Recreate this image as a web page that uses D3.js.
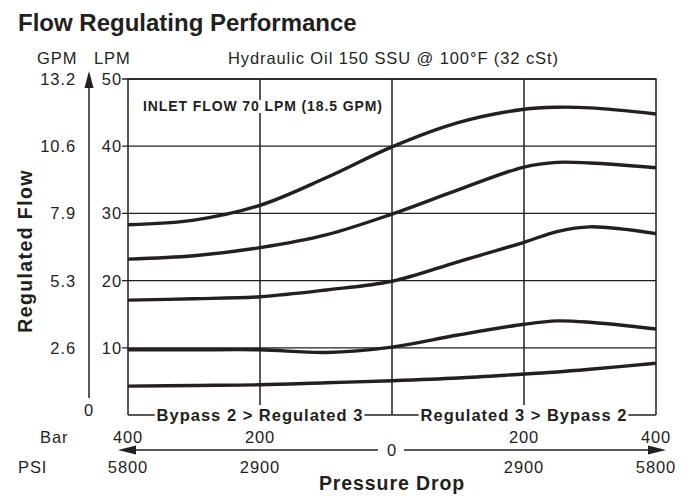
<!DOCTYPE html>
<html>
<head>
<meta charset="utf-8">
<script src="https://cdn.jsdelivr.net/npm/d3@7"></script>
<style>
  body { margin: 0; background: #fff; }
  text { font-family: "Liberation Sans", Arial, Helvetica, sans-serif; fill: #231f20; letter-spacing: 0.9px; }
</style>
</head>
<body>
<svg width="690" height="496"></svg>
<script>
// pressure drop in bar; negative = Bypass 2 > Regulated 3 side, positive = Regulated 3 > Bypass 2 side
var pressure = [-400, -300, -200, -100, 0, 100, 200, 250, 300, 400];
var flow1 = [28.3, 29.0, 31.2, 35.3, 39.9, 43.5, 45.5, 45.8, 45.7, 44.8];
var flow2 = [23.2, 23.7, 24.9, 26.8, 29.9, 33.5, 36.9, 37.6, 37.5, 36.8];
var flow3 = [17.1, 17.3, 17.6, 18.6, 19.9, 22.8, 25.7, 27.3, 28.0, 27.0];
var flow4 = [9.7, 9.7, 9.7, 9.3, 10.1, 11.9, 13.5, 14.0, 13.8, 12.8];
var flow5 = [4.3, 4.4, 4.5, 4.8, 5.1, 5.5, 6.1, 6.4, 6.8, 7.7];

var lpmTicks = [10, 20, 30, 40, 50];
var gpmLabels = ["2.6", "5.3", "7.9", "10.6", "13.2"];
var barTicks = [-400, -200, 200, 400];
var barLabels = ["400", "200", "200", "400"];
var psiLabels = ["5800", "2900", "2900", "5800"];
var gridX = [-200, 0, 200];

var svg = d3.select("svg");
var x = d3.scaleLinear().domain([-400, 400]).range([128, 656]);
var y = d3.scaleLinear().domain([0, 50]).range([415, 79]);
var ink = "#231f20";

// titles
svg.append("text").attr("x", 18).attr("y", 31)
    .style("font-size", "24px").style("font-weight", "bold").style("letter-spacing", "0px")
    .text("Flow Regulating Performance");
svg.append("text").attr("x", 228).attr("y", 64)
    .style("font-size", "16.5px").text("Hydraulic Oil 150 SSU @ 100\u00B0F (32 cSt)");
svg.append("text").attr("x", 37).attr("y", 64).style("font-size", "16.5px").text("GPM");
svg.append("text").attr("x", 94).attr("y", 64).style("font-size", "16.5px").text("LPM");

// horizontal gridlines with little ticks
svg.selectAll(".hgrid").data(lpmTicks).enter().append("line")
    .attr("x1", 122).attr("x2", 656)
    .attr("y1", function(d) { return y(d); }).attr("y2", function(d) { return y(d); })
    .style("stroke", ink).style("stroke-width", 1.3);

// vertical gridlines
svg.selectAll(".vgrid").data(gridX).enter().append("line")
    .attr("x1", function(d) { return x(d); }).attr("x2", function(d) { return x(d); })
    .attr("y1", y(50)).attr("y2", function(d) { return d === 0 ? 415 : 405; })
    .style("stroke", ink).style("stroke-width", 1.5);

// frame: left, top, right
svg.append("path")
    .attr("d", "M" + x(-400) + "," + y(0) + "V" + y(50) + "H" + x(400) + "V" + y(0))
    .style("fill", "none").style("stroke", ink).style("stroke-width", 1.5);

// LPM labels
svg.selectAll(".lpm").data(lpmTicks).enter().append("text")
    .attr("x", 122).attr("y", function(d) { return y(d) + 6; })
    .attr("text-anchor", "end").style("font-size", "16.5px").text(function(d) { return d; });
// GPM labels
svg.selectAll(".gpm").data(lpmTicks).enter().append("text")
    .attr("x", 76).attr("y", function(d) { return y(d) + 6; })
    .attr("text-anchor", "end").style("font-size", "16.5px").text(function(d, i) { return gpmLabels[i]; });
svg.append("text").attr("x", 89).attr("y", 416).attr("text-anchor", "middle")
    .style("font-size", "16.5px").text("0");

// vertical arrow
svg.append("line").attr("x1", 89).attr("x2", 89).attr("y1", 398).attr("y2", 84)
    .style("stroke", ink).style("stroke-width", 1.5);
svg.append("path").attr("d", "M89,71 L93.5,88 L84.5,88 Z").style("fill", ink);

svg.append("text").attr("transform", "translate(32,251) rotate(-90)")
    .attr("text-anchor", "middle").style("font-size", "19.5px").style("font-weight", "bold")
    .style("letter-spacing", "1.4px").text("Regulated Flow");

// inlet flow label on a white box
var inletBox = svg.append("rect").style("fill", "#fff");
var inlet = svg.append("text").attr("x", 143).attr("y", 111)
    .style("font-size", "14px").style("font-weight", "bold").style("letter-spacing", "0.9px")
    .text("INLET FLOW 70 LPM (18.5 GPM)");
var bb = inlet.node().getBBox();
inletBox.attr("x", bb.x - 2).attr("y", bb.y + 2).attr("width", bb.width + 4).attr("height", bb.height - 3);

// bottom bracket with labels
var segStart = x(-400);
[["Bypass 2 > Regulated 3", -200, 0], ["Regulated 3 > Bypass 2", 200, 400]].forEach(function(p) {
    var t = svg.append("text").attr("x", x(p[1])).attr("y", 421).attr("text-anchor", "middle")
        .style("font-size", "16.5px").style("font-weight", "bold").style("letter-spacing", "1px").text(p[0]);
    var b = t.node().getBBox();
    svg.append("line").attr("x1", segStart).attr("x2", b.x - 2).attr("y1", 415).attr("y2", 415)
        .style("stroke", ink).style("stroke-width", 1.5);
    svg.append("line").attr("x1", b.x + b.width + 1).attr("x2", x(p[2])).attr("y1", 415).attr("y2", 415)
        .style("stroke", ink).style("stroke-width", 1.5);
    segStart = x(p[2]);
});

// curves
var line = d3.line()
    .x(function(d) { return x(d[0]); })
    .y(function(d) { return y(d[1]); })
    .curve(d3.curveCatmullRom.alpha(0.5));
[flow1, flow2, flow3, flow4, flow5].forEach(function(s) {
    svg.append("path").datum(d3.zip(pressure, s)).attr("d", line)
        .style("fill", "none").style("stroke", ink).style("stroke-width", 3.4);
});

// pressure drop axis
svg.append("text").attr("x", 40).attr("y", 443).style("font-size", "16.5px").text("Bar");
svg.append("text").attr("x", 18).attr("y", 473).style("font-size", "16.5px").text("PSI");
svg.selectAll(".bar").data(barTicks).enter().append("text")
    .attr("x", function(d) { return x(d); }).attr("y", 443).attr("text-anchor", "middle")
    .style("font-size", "16.5px").text(function(d, i) { return barLabels[i]; });
svg.selectAll(".psi").data(barTicks).enter().append("text")
    .attr("x", function(d) { return x(d); }).attr("y", 473).attr("text-anchor", "middle")
    .style("font-size", "16.5px").text(function(d, i) { return psiLabels[i]; });
svg.append("text").attr("x", x(0)).attr("y", 456).attr("text-anchor", "middle")
    .style("font-size", "16.5px").text("0");
svg.append("line").attr("x1", 378).attr("x2", 132).attr("y1", 450).attr("y2", 450)
    .style("stroke", ink).style("stroke-width", 1.5);
svg.append("line").attr("x1", 404).attr("x2", 652).attr("y1", 450).attr("y2", 450)
    .style("stroke", ink).style("stroke-width", 1.5);
svg.append("path").attr("d", "M118,450 L136,445.5 L136,454.5 Z").style("fill", ink);
svg.append("path").attr("d", "M666,450 L648,445.5 L648,454.5 Z").style("fill", ink);
svg.append("text").attr("x", x(0)).attr("y", 490).attr("text-anchor", "middle")
    .style("font-size", "19.5px").style("font-weight", "bold").text("Pressure Drop");
</script>
</body>
</html>
